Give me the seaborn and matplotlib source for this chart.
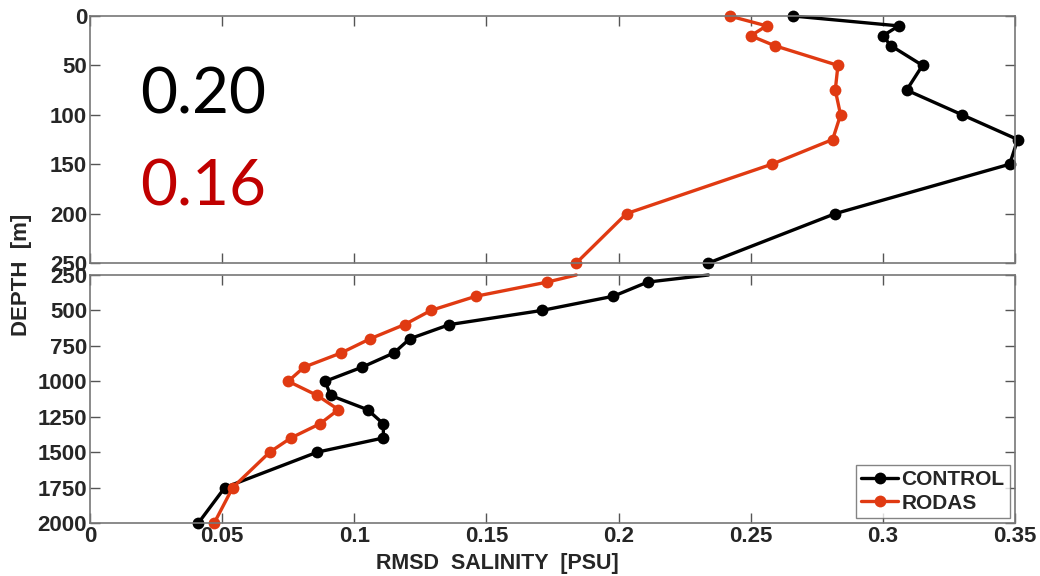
import matplotlib
matplotlib.use("Agg")
import matplotlib.pyplot as plt
import seaborn as sns
import pandas as pd

depths = [0, 10, 20, 30, 50, 75, 100, 125, 150, 200, 250,
          300, 400, 500, 600, 700, 800, 900, 1000, 1100, 1200, 1300, 1400, 1500, 1750, 2000]
control = [0.266, 0.306, 0.300, 0.303, 0.315, 0.309, 0.330, 0.351, 0.348, 0.282, 0.234,
           0.211, 0.198, 0.171, 0.136, 0.121, 0.115, 0.103, 0.089, 0.091, 0.105, 0.111, 0.111, 0.086, 0.051, 0.041]
rodas = [0.242, 0.256, 0.250, 0.259, 0.283, 0.282, 0.284, 0.281, 0.258, 0.203, 0.184,
         0.173, 0.146, 0.129, 0.119, 0.106, 0.095, 0.081, 0.075, 0.086, 0.094, 0.087, 0.076, 0.068, 0.054, 0.047]
series_names = ["CONTROL", "RODAS"]
summary_values = ["0.20", "0.16"]
x_ticks = [0, 0.05, 0.1, 0.15, 0.2, 0.25, 0.3, 0.35]
x_ticklabels = ["0", "0.05", "0.1", "0.15", "0.2", "0.25", "0.3", "0.35"]
top_yticks = [0, 50, 100, 150, 200, 250]
bot_yticks = [250, 500, 750, 1000, 1250, 1500, 1750, 2000]

colors = {"CONTROL": "#000000", "RODAS": "#e03a12"}

sns.set_theme(style="white")
plt.rcParams["font.family"] = ["Liberation Sans", "DejaVu Sans"]

df = pd.DataFrame({
    "depth": depths * 2,
    "value": control + rodas,
    "series": [series_names[0]] * len(depths) + [series_names[1]] * len(depths),
})
top_df = df[df["depth"] <= 250]
bot_df = df[df["depth"] >= 250]

fig = plt.figure(figsize=(10.4, 5.76), dpi=100)
ax1 = fig.add_axes([90 / 1040, 1 - 263 / 576, 925 / 1040, 247 / 576])
ax2 = fig.add_axes([90 / 1040, 1 - 523 / 576, 925 / 1040, 248 / 576])

for name in series_names:
    d = top_df[top_df["series"] == name]
    sns.lineplot(data=d, x="value", y="depth", ax=ax1, sort=False, estimator=None,
                 color=colors[name], marker="o", markersize=8.5, linewidth=2.4,
                 markeredgewidth=0, clip_on=False, legend=False)
    d = bot_df[bot_df["series"] == name]
    sns.lineplot(data=d, x="value", y="depth", ax=ax2, sort=False, estimator=None,
                 color=colors[name], marker="o", markersize=8.5, linewidth=2.4,
                 markeredgewidth=0, clip_on=False, markevery=slice(1, None),
                 label=name)

for ax, yt, ylim in [(ax1, top_yticks, (250, 0)), (ax2, bot_yticks, (2000, 250))]:
    ax.set_xlim(0, 0.35)
    ax.set_ylim(*ylim)
    ax.set_yticks(yt)
    ax.set_yticklabels([str(v) for v in yt], fontsize=16, fontweight="bold")
    ax.set_xticks(x_ticks)
    ax.set_xlabel("")
    ax.set_ylabel("")
    ax.tick_params(direction="in", length=7, width=1, color="#555555",
                   top=True, right=True, left=True, bottom=True, pad=2)
    for s in ax.spines.values():
        s.set_color("#777777")
        s.set_linewidth(1.2)

ax1.set_xticklabels([])
ax2.set_xticklabels(x_ticklabels, fontsize=16, fontweight="bold")

leg = ax2.legend(loc="lower right", prop={"weight": "bold", "size": 15},
                 frameon=True, fancybox=False, handlelength=1.8, handletextpad=0.15,
                 borderaxespad=0.25, borderpad=0.25, labelspacing=0.2)
leg.get_frame().set_edgecolor("#666666")
leg.get_frame().set_linewidth(1)

ax1.text(140 / 1040, 1 - 95 / 576, summary_values[0], transform=fig.transFigure,
         fontsize=46, color="black", family="Lato", va="center", ha="left")
ax1.text(140 / 1040, 1 - 187 / 576, summary_values[1], transform=fig.transFigure,
         fontsize=46, color="#c00000", family="Lato", va="center", ha="left")

fig.text(22 / 1040, 1 - 275 / 576, "DEPTH  [m]", rotation=90, fontsize=16,
         fontweight="bold", va="center", ha="center")
fig.text(497 / 1040, 1 - 563 / 576, "RMSD  SALINITY  [PSU]", fontsize=15.5,
         fontweight="bold", va="center", ha="center")

fig.savefig("out.png", dpi=100)
